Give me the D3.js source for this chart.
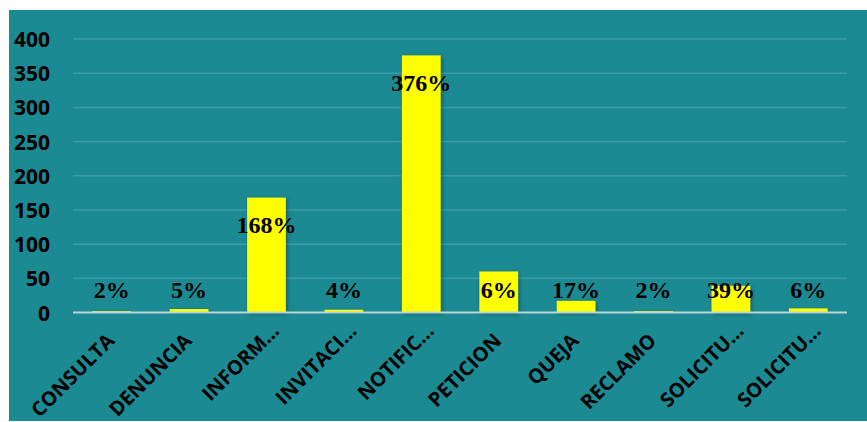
<!DOCTYPE html>
<html>
<head>
<meta charset="utf-8">
<script src="https://cdn.jsdelivr.net/npm/d3@7"></script>
<style>
  html, body { margin: 0; padding: 0; background: #ffffff; }
  svg { display: block; }
</style>
</head>
<body>
<svg id="chart" width="867" height="422"></svg>
<script>
// Document types and their counts
const categories = ["CONSULTA", "DENUNCIA", "INFORM…", "INVITACI…", "NOTIFIC…", "PETICION", "QUEJA", "RECLAMO", "SOLICITU…", "SOLICITU…"];
const values = [2, 5, 168, 4, 376, 60, 17, 2, 39, 6];
const valueLabels = ["2%", "5%", "168%", "4%", "376%", "6%", "17%", "2%", "39%", "6%"];
const yTicks = [0, 50, 100, 150, 200, 250, 300, 350, 400];

(function () {
  const svg = d3.select("#chart");
  const W = 867, H = 422;

  // teal panel
  svg.append("rect")
    .attr("x", 9).attr("y", 10)
    .attr("width", W - 9).attr("height", H - 11)
    .attr("fill", "#1c8a93");

  const defs = svg.append("defs");
  const f = defs.append("filter").attr("id", "shadow")
    .attr("x", "-30%").attr("y", "-30%").attr("width", "160%").attr("height", "160%");
  f.append("feDropShadow")
    .attr("dx", 1.5).attr("dy", 1.5).attr("stdDeviation", 2)
    .attr("flood-color", "#000").attr("flood-opacity", 0.35);

  const plotLeft = 73, plotRight = 847, plotTop = 39, plotBottom = 312.5;

  const x = d3.scaleBand()
    .domain(d3.range(categories.length))
    .range([plotLeft, plotRight])
    .paddingInner(0.5).paddingOuter(0.25);

  const y = d3.scaleLinear().domain([0, 400]).range([plotBottom, plotTop]);

  // gridlines
  svg.append("g")
    .selectAll("line")
    .data(yTicks.filter(d => d > 0))
    .join("line")
    .attr("x1", plotLeft).attr("x2", plotRight)
    .attr("y1", d => y(d)).attr("y2", d => y(d))
    .attr("stroke", "#3a9da6").attr("stroke-width", 1.5);

  // y axis labels
  const yAxis = d3.axisLeft(y).tickValues(yTicks).tickSize(0).tickPadding(0);
  const gy = svg.append("g").attr("transform", "translate(50,0)").call(yAxis);
  gy.select(".domain").remove();
  gy.selectAll("text")
    .attr("font-family", "'Open Sans', sans-serif")
    .attr("font-weight", 700)
    .attr("font-size", 21)
    .attr("fill", "#000")
    .attr("dy", "0.36em");

  // bars
  svg.append("g")
    .selectAll("rect")
    .data(values)
    .join("rect")
    .attr("x", (d, i) => x(i))
    .attr("width", x.bandwidth())
    .attr("y", d => y(d))
    .attr("height", d => y(0) - y(d))
    .attr("fill", "#ffff00")
    .attr("filter", "url(#shadow)");

  // baseline
  svg.append("line")
    .attr("x1", plotLeft).attr("x2", plotRight)
    .attr("y1", y(0)).attr("y2", y(0))
    .attr("stroke", "#b9d3d6").attr("stroke-width", 2);

  // value labels
  svg.append("g")
    .selectAll("text")
    .data(values)
    .join("text")
    .attr("x", (d, i) => x(i) + x.bandwidth() / 2)
    .attr("y", d => Math.min(y(d) + 27, y(0) - 23))
    .attr("dy", "0.35em")
    .attr("text-anchor", "middle")
    .attr("font-family", "'Liberation Serif', 'Times New Roman', serif")
    .attr("font-weight", 700)
    .attr("font-size", 24)
    .attr("fill", "#000")
    .text((d, i) => valueLabels[i]);

  // category labels, rotated; shortened names sit a little further along
  const xAxis = d3.axisBottom(x).tickSize(0).tickPadding(0).tickFormat(i => categories[i]);
  const gx = svg.append("g").attr("transform", `translate(0,${plotBottom})`).call(xAxis);
  gx.select(".domain").remove();
  gx.selectAll("text")
    .attr("font-family", "'Open Sans', sans-serif")
    .attr("font-weight", 700)
    .attr("font-size", 20)
    .attr("fill", "#000")
    .attr("text-anchor", "end")
    .attr("y", 0)
    .attr("dy", 0)
    .attr("dx", i => categories[i].endsWith("…") ? 14 : 0)
    .attr("transform", "translate(4,29.5) rotate(-45)");
})();
</script>
</body>
</html>
